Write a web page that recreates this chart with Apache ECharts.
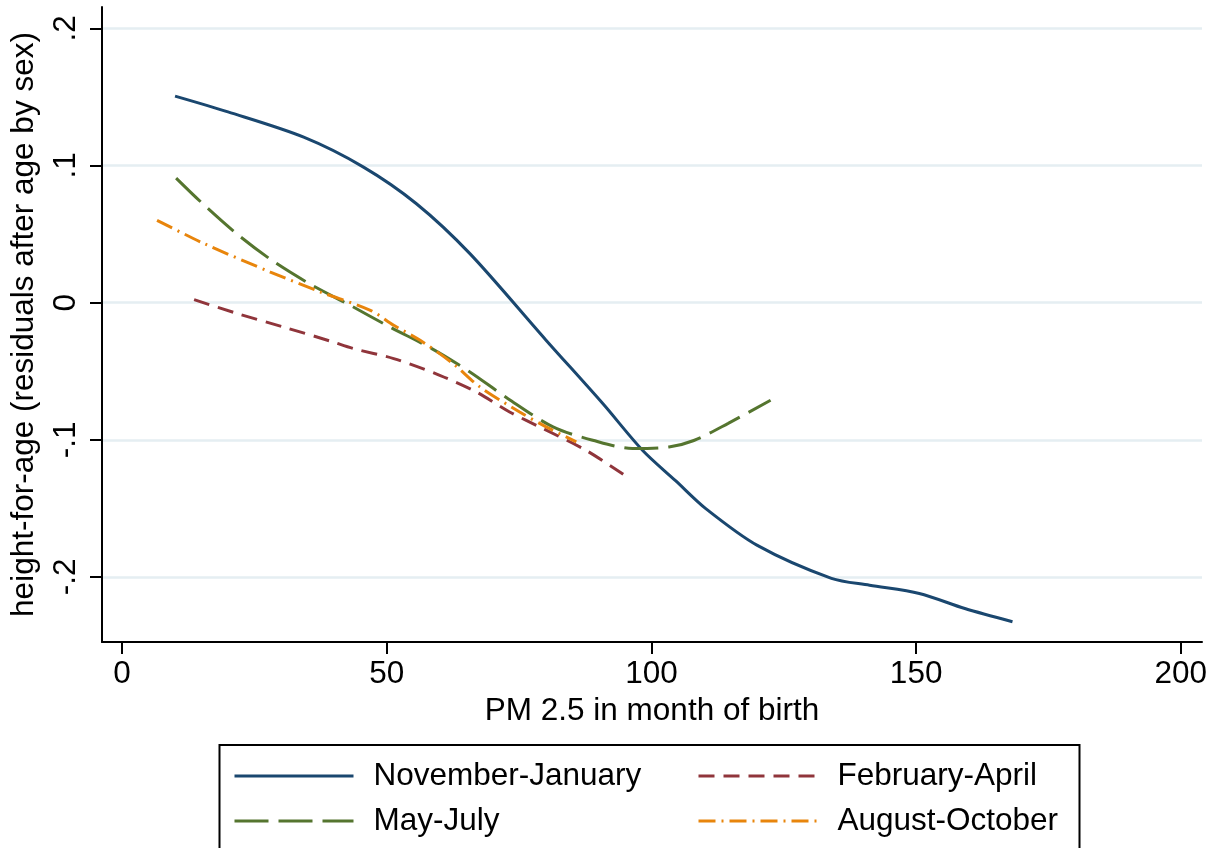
<!DOCTYPE html>
<html>
<head>
<meta charset="utf-8">
<script src="https://cdn.jsdelivr.net/npm/echarts@6/dist/echarts.min.js"></script>
<style>
html,body{margin:0;padding:0;background:#fff;}
#chart{width:1219px;height:848px;}
</style>
</head>
<body>
<div id="chart"></div>
<script>
// ---- data ----
const xTickValues = [0, 50, 100, 150, 200];
const xTickLabels = ['0', '50', '100', '150', '200'];
const yTickValues = [-0.2, -0.1, 0, 0.1, 0.2];
const yTickLabels = ['-.2', '-.1', '0', '.1', '.2'];

const novJanX = [10.0, 20.0, 34.3, 45.6, 55.6, 65.7, 80.0, 90.8, 98.3, 104.6, 110.2, 120.0, 134.0, 141.2, 150.6, 159.2, 168.2];
const novJanY = [0.1505, 0.139, 0.1206, 0.0988, 0.0721, 0.0357, -0.027, -0.0736, -0.1076, -0.130, -0.150, -0.177, -0.201, -0.206, -0.212, -0.223, -0.2326];

const febAprX = [13.6, 21.8, 30.5, 39.3, 43.7, 51.3, 60.0, 66.9, 73.2, 79.5, 87.6, 94.9];
const febAprY = [0.0022, -0.008, -0.0178, -0.028, -0.0335, -0.0408, -0.053, -0.0651, -0.0797, -0.0918, -0.1076, -0.1258];

const mayJulX = [10.2, 14.9, 21.5, 28.3, 35.6, 43.1, 50.6, 58.5, 65.7, 72.9, 81.4, 88.9, 96.4, 103.3, 108.0, 114.5, 122.5];
const mayJulY = [0.0908, 0.0733, 0.0507, 0.0308, 0.0133, -0.002, -0.0178, -0.0335, -0.0505, -0.070, -0.0906, -0.1003, -0.1063, -0.1052, -0.1005, -0.088, -0.0712];

const augOctX = [6.6, 15.5, 28.0, 37.5, 46.9, 51.3, 56.3, 62.5, 67.6, 75.1, 80.1, 85.8];
const augOctY = [0.060, 0.043, 0.0223, 0.0077, -0.0056, -0.0165, -0.0275, -0.0444, -0.0615, -0.0797, -0.0906, -0.1015];

const seriesNames = ['November-January', 'February-April', 'May-July', 'August-October'];

// ---- helpers ----
function zip(xs, ys) { return xs.map((x, i) => [x, ys[i]]); }

const FONT = 'Liberation Sans, Arial, Helvetica, sans-serif';
const FS = 31.5;

const chart = echarts.init(document.getElementById('chart'), null, { renderer: 'canvas' });

function lineSeries(name, xs, ys, color, type) {
  return {
    name: name,
    type: 'line',
    data: zip(xs, ys),
    showSymbol: false,
    symbol: 'none',
    smooth: 0.3,
    lineStyle: { color: color, width: 3, type: type, cap: 'butt' },
    itemStyle: { color: color },
    z: 3
  };
}

const legendText = { color: '#000', fontFamily: FONT, fontSize: FS, padding: [0, 0, 0, 15], lineHeight: 31 };
const legendCommon = {
  orient: 'vertical',
  top: 760,
  padding: 0,
  itemGap: 13,
  itemWidth: 119, itemHeight: 14,
  textStyle: legendText,
  selectedMode: false,
  itemStyle: { opacity: 0, borderWidth: 0 },
  lineStyle: { width: 3 }
};

const option = {
  animation: false,
  backgroundColor: '#fff',
  grid: { left: 98, right: 17, top: 7, bottom: 206, containLabel: false },
  xAxis: {
    type: 'value',
    min: -3.8,
    max: 204.0,
    name: 'PM 2.5 in month of birth',
    nameLocation: 'middle',
    nameGap: 50,
    nameTextStyle: { color: '#000', fontFamily: FONT, fontSize: FS },
    axisLine: { show: true, onZero: false, lineStyle: { color: '#000', width: 2 } },
    axisTick: { show: true, inside: false, length: 12, lineStyle: { color: '#000', width: 2 }, customValues: xTickValues },
    axisLabel: {
      color: '#000', fontFamily: FONT, fontSize: FS, margin: 16,
      customValues: xTickValues,
      formatter: v => xTickLabels[xTickValues.indexOf(v)] ?? ''
    },
    splitLine: { show: false }
  },
  yAxis: {
    type: 'value',
    min: -0.2474,
    max: 0.2155,
    name: 'height-for-age (residuals after age by sex)',
    nameLocation: 'middle',
    nameGap: 62,
    nameTextStyle: { color: '#000', fontFamily: FONT, fontSize: FS },
    axisLine: { show: true, onZero: false, lineStyle: { color: '#000', width: 2 } },
    axisTick: { show: true, inside: false, length: 12, lineStyle: { color: '#000', width: 2 }, customValues: yTickValues },
    axisLabel: {
      color: '#000', fontFamily: FONT, fontSize: FS, margin: 20, rotate: 90,
      customValues: yTickValues,
      formatter: v => {
        const i = yTickValues.findIndex(t => Math.abs(t - v) < 1e-9);
        return i >= 0 ? yTickLabels[i] : '';
      }
    },
    splitLine: { show: true, lineStyle: { color: '#e5eef2', width: 2.5 } }
  },
  legend: [
    Object.assign({}, legendCommon, { data: [seriesNames[0], seriesNames[2]], left: 233 }),
    Object.assign({}, legendCommon, { data: [seriesNames[1], seriesNames[3]], left: 697 })
  ],
  graphic: [
    {
      type: 'rect',
      shape: { x: 219.5, y: 745, width: 860, height: 140 },
      style: { fill: 'none', stroke: '#000', lineWidth: 2 },
      silent: true,
      z: 1
    }
  ],
  series: [
    lineSeries(seriesNames[0], novJanX, novJanY, '#1a476f', 'solid'),
    lineSeries(seriesNames[1], febAprX, febAprY, '#90353b', [16, 9]),
    lineSeries(seriesNames[2], mayJulX, mayJulY, '#55752f', [34, 10]),
    lineSeries(seriesNames[3], augOctX, augOctY, '#e8850c', [17, 6, 2, 6])
  ]
};

chart.setOption(option);
</script>
</body>
</html>
